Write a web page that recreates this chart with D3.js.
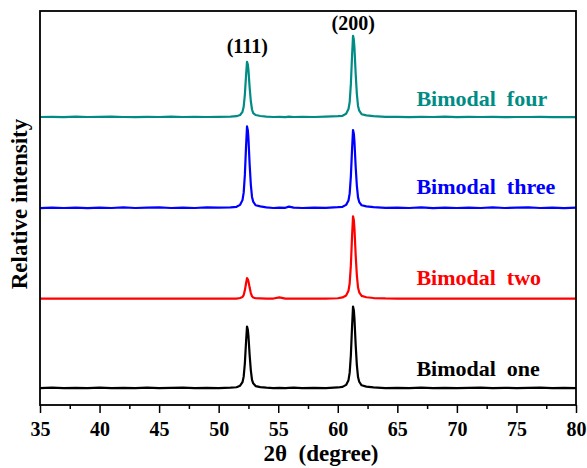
<!DOCTYPE html>
<html>
<head>
<meta charset="utf-8">
<script src="https://cdn.jsdelivr.net/npm/d3@7"></script>
<style>
  body { margin: 0; background: #fff; }
  svg text { font-family: "Liberation Serif", "DejaVu Serif", serif !important; font-weight: bold; }
</style>
</head>
<body>
<div id="chart"></div>
<script>
// 2theta grid shared by all four patterns
var twoTheta = [
  35, 36, 37, 38, 39, 40, 41, 42, 43, 44, 45, 46, 47, 48, 49, 50, 51,
  51.5, 51.8, 52.0, 52.1, 52.2, 52.3, 52.38, 52.45, 52.5, 52.6, 52.7, 52.8, 52.9, 53.1, 53.5,
  54, 54.6, 55.1, 55.6, 55.9, 56.3, 57, 58, 59, 60,
  60.4, 60.7, 60.9, 61.0, 61.1, 61.2, 61.28, 61.35, 61.4, 61.5, 61.6, 61.7, 61.8, 62.0, 62.4,
  63, 64, 65, 66, 67, 68, 69, 70, 71, 72, 73, 74, 75, 76, 77, 78, 79, 80
];

var bimodalOne = [
  0.1, 0.2, 0.1, 0.15, 0.1, 0.2, 0.1, 0.15, 0.1, 0.2, 0.1, 0.15, 0.2, 0.1, 0.15, 0.1, 0.2,
  0.3, 0.7, 1.6, 3.0, 6.4, 11.9, 15.7, 14.9, 13.3, 8.5, 4.6, 2.2, 1.3, 0.6, 0.35,
  0.2, 0.1, 0.15, 0.1, 0.15, 0.2, 0.1, 0.15, 0.1, 0.25,
  0.4, 0.9, 2.1, 4.0, 8.5, 15.8, 20.8, 19.8, 17.7, 11.2, 6.0, 2.9, 1.7, 0.8, 0.45,
  0.25, 0.1, 0.15, 0.1, 0.2, 0.1, 0.15, 0.1, 0.15, 0.2, 0.1, 0.15, 0.1, 0.15, 0.2, 0.1, 0.15, 0.1
];
var bimodalTwo = [
  0.1, 0.1, 0.12, 0.1, 0.1, 0.1, 0.12, 0.1, 0.1, 0.12, 0.1, 0.1, 0.1, 0.12, 0.1, 0.1, 0.12,
  0.12, 0.25, 0.5, 1.0, 2.2, 4.0, 5.3, 5.0, 4.5, 2.9, 1.5, 0.7, 0.4, 0.2, 0.15,
  0.1, 0.12, 0.4, 0.1, 0.12, 0.1, 0.1, 0.12, 0.1, 0.2,
  0.4, 0.9, 2.1, 4.0, 8.6, 16.0, 21.0, 20.0, 17.9, 11.3, 6.1, 2.9, 1.7, 0.8, 0.45,
  0.25, 0.15, 0.12, 0.1, 0.1, 0.12, 0.1, 0.1, 0.1, 0.12, 0.1, 0.1, 0.1, 0.1, 0.12, 0.1, 0.1, 0.1
];
var bimodalThree = [
  0.05, 0.2, 0.1, 0.2, 0.05, 0.2, 0.1, 0.25, 0.1, 0.2, 0.25, 0.1, 0.2, 0.1, 0.25, 0.2, 0.25,
  0.4, 0.9, 2.1, 4.0, 8.5, 15.8, 20.8, 19.8, 17.7, 11.2, 6.0, 2.9, 1.7, 0.8, 0.5,
  0.25, 0.1, 0.2, 0.15, 0.45, 0.2, 0.1, 0.2, 0.15, 0.3,
  0.4, 0.9, 2.0, 3.8, 8.2, 15.1, 19.9, 18.9, 16.9, 10.7, 5.8, 2.8, 1.6, 0.8, 0.5,
  0.3, 0.15, 0.2, 0.1, 0.25, 0.05, 0.2, 0.1, 0.2, 0.1, 0.25, 0.1, 0.2, 0.25, 0.1, 0.2, 0.05, 0.2
];
var bimodalFour = [
  0.1, 0.15, 0.05, 0.2, 0.1, 0.15, 0.2, 0.1, 0.05, 0.15, 0.1, 0.2, 0.1, 0.15, 0.1, 0.15, 0.2,
  0.3, 0.6, 1.4, 2.7, 5.8, 10.7, 14.1, 13.4, 12.0, 7.6, 4.1, 2.0, 1.1, 0.6, 0.35,
  0.2, 0.1, 0.15, 0.05, 0.2, 0.1, 0.15, 0.1, 0.2, 0.3,
  0.4, 0.9, 2.1, 3.9, 8.5, 15.7, 20.7, 19.7, 17.6, 11.2, 6.0, 2.9, 1.7, 0.8, 0.5,
  0.3, 0.15, 0.15, 0.05, 0.15, 0.1, 0.2, 0.05, 0.15, 0.1, 0.15, 0.05, 0.1, 0.1, 0.15, 0.05, 0.1, 0.05
];

var seriesNames = ["Bimodal  one", "Bimodal  two", "Bimodal  three", "Bimodal  four"];
var seriesValues = [bimodalOne, bimodalTwo, bimodalThree, bimodalFour];
var seriesOffsets = [4.2, 26.9, 49.9, 73.0];
var seriesColors = ["#000000", "#ff0000", "#0000ff", "#008c85"];
var labelLevels = [7.4, 30.4, 53.5, 76.0];
var labelPosition = 66.6;

var peakLabels = ["(111)", "(200)"];
var peakPositions = [52.4, 61.3];
var peakLabelLevels = [89.4, 95.2];

var majorTicks = [35, 40, 45, 50, 55, 60, 65, 70, 75, 80];
var minorTicks = [37.5, 42.5, 47.5, 52.5, 57.5, 62.5, 67.5, 72.5, 77.5];

var width = 587,
  height = 468,
  margin = { top: 11, right: 11, bottom: 63, left: 40 };

var serif = "'Liberation Serif', 'DejaVu Serif', serif";

var svg = d3.select("#chart").append("svg")
  .attr("width", width)
  .attr("height", height)
  .attr("font-family", serif);

var x = d3.scaleLinear().domain([35, 80]).range([margin.left, width - margin.right]),
  y = d3.scaleLinear().domain([0, 100]).range([height - margin.bottom, margin.top]);

var data = seriesValues.map(function(vals, i) {
  return {
    name: seriesNames[i],
    color: seriesColors[i],
    offset: seriesOffsets[i],
    level: labelLevels[i],
    values: vals.map(function(v, j) { return { t: twoTheta[j], v: v }; })
  };
});

var line = d3.line()
  .x(function(d) { return x(d.t); });

svg.append("g").selectAll("path")
  .data(data).enter()
  .append("path")
  .attr("fill", "none")
  .attr("stroke", function(d) { return d.color; })
  .attr("stroke-width", 2.2)
  .attr("stroke-linejoin", "round")
  .attr("d", function(s) {
    return line.y(function(d) { return y(d.v + s.offset); })(s.values);
  });

// series names
svg.append("g").selectAll("text")
  .data(data).enter()
  .append("text")
  .attr("x", x(labelPosition))
  .attr("y", function(d) { return y(d.level); })
  .attr("fill", function(d) { return d.color; })
  .attr("font-size", 22)
  .style("white-space", "pre")
  .text(function(d) { return d.name; });

// peak indices
svg.append("g").selectAll("text")
  .data(peakLabels).enter()
  .append("text")
  .attr("x", function(d, i) { return x(peakPositions[i]); })
  .attr("y", function(d, i) { return y(peakLabelLevels[i]); })
  .attr("text-anchor", "middle")
  .attr("font-size", 20)
  .text(function(d) { return d; });

// x axis
var xAxis = svg.append("g")
  .attr("transform", "translate(0," + (height - margin.bottom) + ")")
  .call(d3.axisBottom(x).tickValues(majorTicks).tickSize(8).tickPadding(9).tickFormat(d3.format("d")));
xAxis.attr("font-family", serif);
xAxis.select(".domain").remove();
xAxis.selectAll("line").attr("stroke-width", 1.5);
xAxis.selectAll("text")
  .attr("font-size", 20)
  .attr("fill", "#000");

var xMinor = svg.append("g")
  .attr("transform", "translate(0," + (height - margin.bottom) + ")")
  .call(d3.axisBottom(x).tickValues(minorTicks).tickSize(4).tickFormat(""));
xMinor.select(".domain").remove();
xMinor.selectAll("line").attr("stroke-width", 1.5);

// frame
svg.append("rect")
  .attr("x", margin.left)
  .attr("y", margin.top)
  .attr("width", width - margin.left - margin.right)
  .attr("height", height - margin.top - margin.bottom)
  .attr("fill", "none")
  .attr("stroke", "#000")
  .attr("stroke-width", 1.8);

// axis titles
svg.append("text")
  .attr("x", 321)
  .attr("y", 461)
  .attr("text-anchor", "middle")
  .attr("font-size", 23)
  .style("white-space", "pre")
  .text("2\u03b8  (degree)");

svg.append("text")
  .attr("transform", "translate(27," + 204 + ") rotate(-90)")
  .attr("text-anchor", "middle")
  .attr("font-size", 23)
  .text("Relative intensity");
</script>
</body>
</html>
